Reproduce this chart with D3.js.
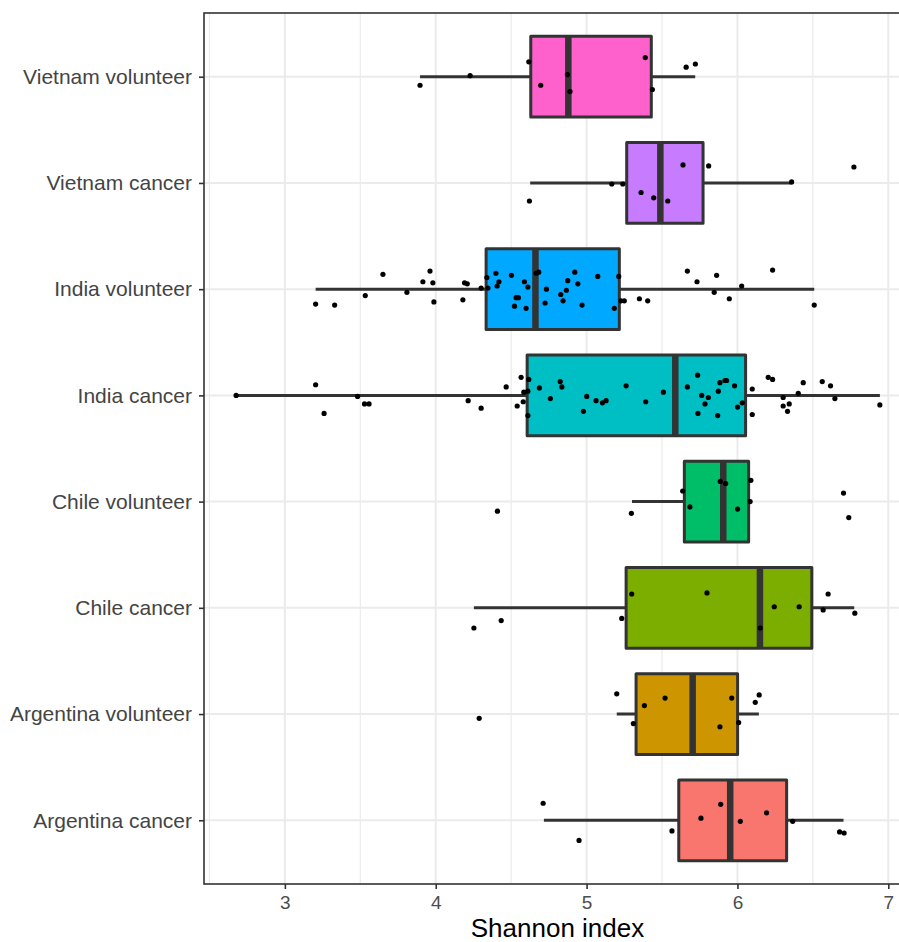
<!DOCTYPE html>
<html>
<head>
<meta charset="utf-8">
<script src="https://d3js.org/d3.v7.min.js"></script>
<style>
  body { margin: 0; background: #ffffff; }
  svg { display: block; font-family: "Liberation Sans", Arial, sans-serif; }
</style>
</head>
<body>
<div id="vis"></div>
<script>
// Categories from bottom to top, with the ggplot hue colours
const CATEGORIES = ["Argentina cancer", "Argentina volunteer", "Chile cancer", "Chile volunteer",
                    "India cancer", "India volunteer", "Vietnam cancer", "Vietnam volunteer"];
const COLORS = ["#F8766D", "#CD9600", "#7CAE00", "#00BE67", "#00BFC4", "#00A9FF", "#C77CFF", "#FF61CC"];

// Box plot statistics (Shannon index)
const WHISKER_LOW  = [4.717, 5.200, 4.253, 5.301, 2.677, 3.204, 4.626, 3.896];
const Q1           = [5.611, 5.328, 5.262, 5.648, 4.606, 4.334, 5.266, 4.630];
const MEDIAN       = [5.952, 5.703, 6.149, 5.906, 5.588, 4.661, 5.489, 4.879];
const Q3           = [6.326, 6.001, 6.493, 6.074, 6.054, 5.217, 5.772, 5.429];
const WHISKER_HIGH = [6.703, 6.142, 6.774, 6.083, 6.944, 6.509, 6.361, 5.720];

// Jittered samples: [Shannon index, vertical jitter as fraction of a category step]
const ARGENTINA_CANCER = [[4.712,-0.16],[4.950,0.19],[5.566,0.10],[5.758,-0.02],[5.889,-0.15],
  [6.019,0.01],[6.193,-0.07],[6.366,0.01],[6.677,0.11],[6.707,0.12]];
const ARGENTINA_VOLUNTEER = [[4.288,0.04],[5.200,-0.19],[5.310,0.09],[5.383,-0.08],[5.520,-0.15],
  [5.884,0.12],[5.962,-0.15],[6.008,0.08],[6.118,-0.11],[6.144,-0.18]];
const CHILE_CANCER = [[4.253,0.19],[4.434,0.12],[5.233,0.10],[5.299,-0.13],[5.798,-0.14],
  [6.151,0.19],[6.244,-0.01],[6.409,-0.01],[6.568,0.02],[6.601,-0.13],[6.778,0.05]];
const CHILE_VOLUNTEER = [[4.409,0.09],[5.297,0.11],[5.637,-0.10],[5.685,0.05],[5.886,-0.19],
  [5.922,-0.17],[6.001,0.07],[6.089,-0.20],[6.084,0.00],[6.703,-0.08],[6.738,0.15]];
const INDIA_CANCER = [[2.677,0.00],[3.204,-0.10],[3.260,0.17],[3.482,0.01],[3.528,0.08],[3.558,0.08],
  [4.215,0.05],[4.301,0.12],[4.467,-0.08],[4.540,0.10],[4.566,-0.17],[4.584,-0.03],[4.580,0.06],
  [4.611,-0.04],[4.617,-0.15],[4.611,0.19],[4.687,-0.07],[4.760,0.03],[4.825,-0.13],[4.836,-0.08],
  [4.979,0.15],[5.001,0.01],[5.063,0.05],[5.105,0.07],[5.129,0.05],[5.262,-0.09],[5.392,0.06],
  [5.509,-0.03],[5.668,-0.08],[5.736,-0.19],[5.738,0.17],[5.763,0.00],[5.785,0.08],[5.807,0.02],
  [5.869,0.19],[5.873,-0.04],[5.884,-0.12],[5.917,-0.14],[5.928,-0.14],[5.981,-0.09],[6.001,0.11],
  [6.032,0.07],[6.098,-0.06],[6.098,0.18],[6.204,-0.17],[6.233,-0.15],[6.303,0.02],[6.303,0.10],
  [6.332,0.15],[6.343,0.08],[6.403,-0.02],[6.436,-0.12],[6.562,-0.13],[6.617,-0.09],[6.646,0.03],
  [6.944,0.09]];
const INDIA_VOLUNTEER = [[3.204,0.14],[3.330,0.15],[3.533,0.06],[3.650,-0.14],[3.809,0.03],
  [3.915,-0.07],[3.962,-0.17],[3.981,-0.06],[3.988,0.12],[4.180,0.10],[4.191,-0.06],[4.209,-0.05],
  [4.301,-0.01],[4.339,-0.11],[4.346,-0.01],[4.399,-0.15],[4.407,-0.03],[4.419,-0.07],[4.502,-0.13],
  [4.522,0.16],[4.533,0.08],[4.548,0.08],[4.588,-0.07],[4.599,0.18],[4.611,-0.02],[4.666,-0.15],
  [4.683,-0.16],[4.725,0.13],[4.734,0.00],[4.829,0.05],[4.844,0.11],[4.866,0.01],[4.875,-0.08],
  [4.922,-0.16],[4.942,-0.05],[4.970,0.15],[5.074,-0.12],[5.184,0.18],[5.213,-0.12],[5.228,0.11],
  [5.250,0.11],[5.350,0.09],[5.405,0.11],[5.668,-0.17],[5.732,-0.07],[5.846,0.03],[5.862,-0.13],
  [5.946,0.09],[6.028,-0.03],[6.233,-0.18],[6.509,0.15]];
const VIETNAM_CANCER = [[4.621,0.17],[5.167,0.01],[5.240,0.01],[5.361,0.09],[5.445,0.14],
  [5.538,0.17],[5.639,-0.17],[5.809,-0.16],[6.359,-0.01],[6.772,-0.15]];
const VIETNAM_VOLUNTEER = [[3.896,0.08],[4.228,-0.01],[4.617,-0.14],[4.696,0.08],[4.873,-0.02],
  [4.890,0.14],[5.389,-0.18],[5.436,0.12],[5.660,-0.09],[5.721,-0.12]];

const POINTS = [ARGENTINA_CANCER, ARGENTINA_VOLUNTEER, CHILE_CANCER, CHILE_VOLUNTEER,
                INDIA_CANCER, INDIA_VOLUNTEER, VIETNAM_CANCER, VIETNAM_VOLUNTEER];

const X_TICKS = [3, 4, 5, 6, 7];
const X_MINOR = [2.5, 3.5, 4.5, 5.5, 6.5];

// Frame and panel dimensions
const FRAME_WIDTH = 899;
const FRAME_HEIGHT = 942;
const PANEL = {left: 204, right: 912, top: 13, bottom: 884};

const FRAME = d3.select("#vis")
  .append("svg")
    .attr("width", FRAME_WIDTH)
    .attr("height", FRAME_HEIGHT);

// Scales
const X_SCALE = d3.scaleLinear()
  .domain([2.464, 7.157])
  .range([PANEL.left, PANEL.right]);

const Y_SCALE = d3.scalePoint()
  .domain(CATEGORIES)
  .range([PANEL.bottom, PANEL.top])
  .padding(0.6);

const STEP = Y_SCALE.step();
const BOX_H = STEP * 0.76;

// Grid lines
const grid = FRAME.append("g");
grid.selectAll(".minor")
  .data(X_MINOR)
  .enter()
  .append("line")
    .attr("x1", (d) => X_SCALE(d))
    .attr("x2", (d) => X_SCALE(d))
    .attr("y1", PANEL.top)
    .attr("y2", PANEL.bottom)
    .attr("stroke", "#ebebeb")
    .attr("stroke-width", 1.2);
grid.selectAll(".major")
  .data(X_TICKS)
  .enter()
  .append("line")
    .attr("x1", (d) => X_SCALE(d))
    .attr("x2", (d) => X_SCALE(d))
    .attr("y1", PANEL.top)
    .attr("y2", PANEL.bottom)
    .attr("stroke", "#ebebeb")
    .attr("stroke-width", 2);
grid.selectAll(".hline")
  .data(CATEGORIES)
  .enter()
  .append("line")
    .attr("x1", PANEL.left)
    .attr("x2", PANEL.right)
    .attr("y1", (d) => Y_SCALE(d))
    .attr("y2", (d) => Y_SCALE(d))
    .attr("stroke", "#ebebeb")
    .attr("stroke-width", 2);

// Box plots
const boxes = FRAME.append("g")
  .selectAll("g")
  .data(CATEGORIES)
  .enter()
  .append("g");

// whisker line goes behind the box
boxes.append("line")
  .attr("x1", (d, i) => X_SCALE(WHISKER_LOW[i]))
  .attr("x2", (d, i) => X_SCALE(WHISKER_HIGH[i]))
  .attr("y1", (d) => Y_SCALE(d))
  .attr("y2", (d) => Y_SCALE(d))
  .attr("stroke", "#333333")
  .attr("stroke-width", 3);

boxes.append("rect")
  .attr("x", (d, i) => X_SCALE(Q1[i]))
  .attr("width", (d, i) => X_SCALE(Q3[i]) - X_SCALE(Q1[i]))
  .attr("y", (d) => Y_SCALE(d) - BOX_H / 2)
  .attr("height", BOX_H)
  .attr("fill", (d, i) => COLORS[i])
  .attr("stroke", "#333333")
  .attr("stroke-width", 3)
  .attr("stroke-linejoin", "round");

boxes.append("line")
  .attr("x1", (d, i) => X_SCALE(MEDIAN[i]))
  .attr("x2", (d, i) => X_SCALE(MEDIAN[i]))
  .attr("y1", (d) => Y_SCALE(d) - BOX_H / 2)
  .attr("y2", (d) => Y_SCALE(d) + BOX_H / 2)
  .attr("stroke", "#333333")
  .attr("stroke-width", 6.5);

// Jittered points
boxes.selectAll("circle")
  .data((d, i) => POINTS[i].map((p) => ({cat: d, v: p[0], j: p[1]})))
  .enter()
  .append("circle")
    .attr("cx", (d) => X_SCALE(d.v))
    .attr("cy", (d) => Y_SCALE(d.cat) + d.j * STEP)
    .attr("r", 2.6)
    .attr("fill", "#000000");

// Panel border
FRAME.append("rect")
  .attr("x", PANEL.left)
  .attr("y", PANEL.top)
  .attr("width", PANEL.right - PANEL.left)
  .attr("height", PANEL.bottom - PANEL.top)
  .attr("fill", "none")
  .attr("stroke", "#333333")
  .attr("stroke-width", 1.6);

// Axes
const xAxis = FRAME.append("g")
  .attr("transform", "translate(0," + PANEL.bottom + ")")
  .call(d3.axisBottom(X_SCALE).tickValues(X_TICKS).tickSize(5).tickPadding(7).tickFormat(d3.format("d")));
xAxis.select(".domain").remove();
xAxis.selectAll("line").attr("stroke", "#333333").attr("stroke-width", 1.6);
xAxis.selectAll("text")
  .attr("fill", "#4d4d4d")
  .style("font-size", "19px")
  .style("font-family", "Liberation Sans, Arial, sans-serif");

const yAxis = FRAME.append("g")
  .attr("transform", "translate(" + PANEL.left + ",0)")
  .call(d3.axisLeft(Y_SCALE).tickSize(5).tickPadding(7));
yAxis.select(".domain").remove();
yAxis.selectAll("line").attr("stroke", "#333333").attr("stroke-width", 1.6);
yAxis.selectAll("text")
  .attr("fill", "#444444")
  .style("font-size", "21px")
  .style("font-family", "Liberation Sans, Arial, sans-serif");

// Axis title
FRAME.append("text")
  .attr("x", (PANEL.left + 899) / 2 + 6)
  .attr("y", 937)
  .attr("text-anchor", "middle")
  .style("font-size", "26px")
  .attr("fill", "#000000")
  .text("Shannon index");
</script>
</body>
</html>
